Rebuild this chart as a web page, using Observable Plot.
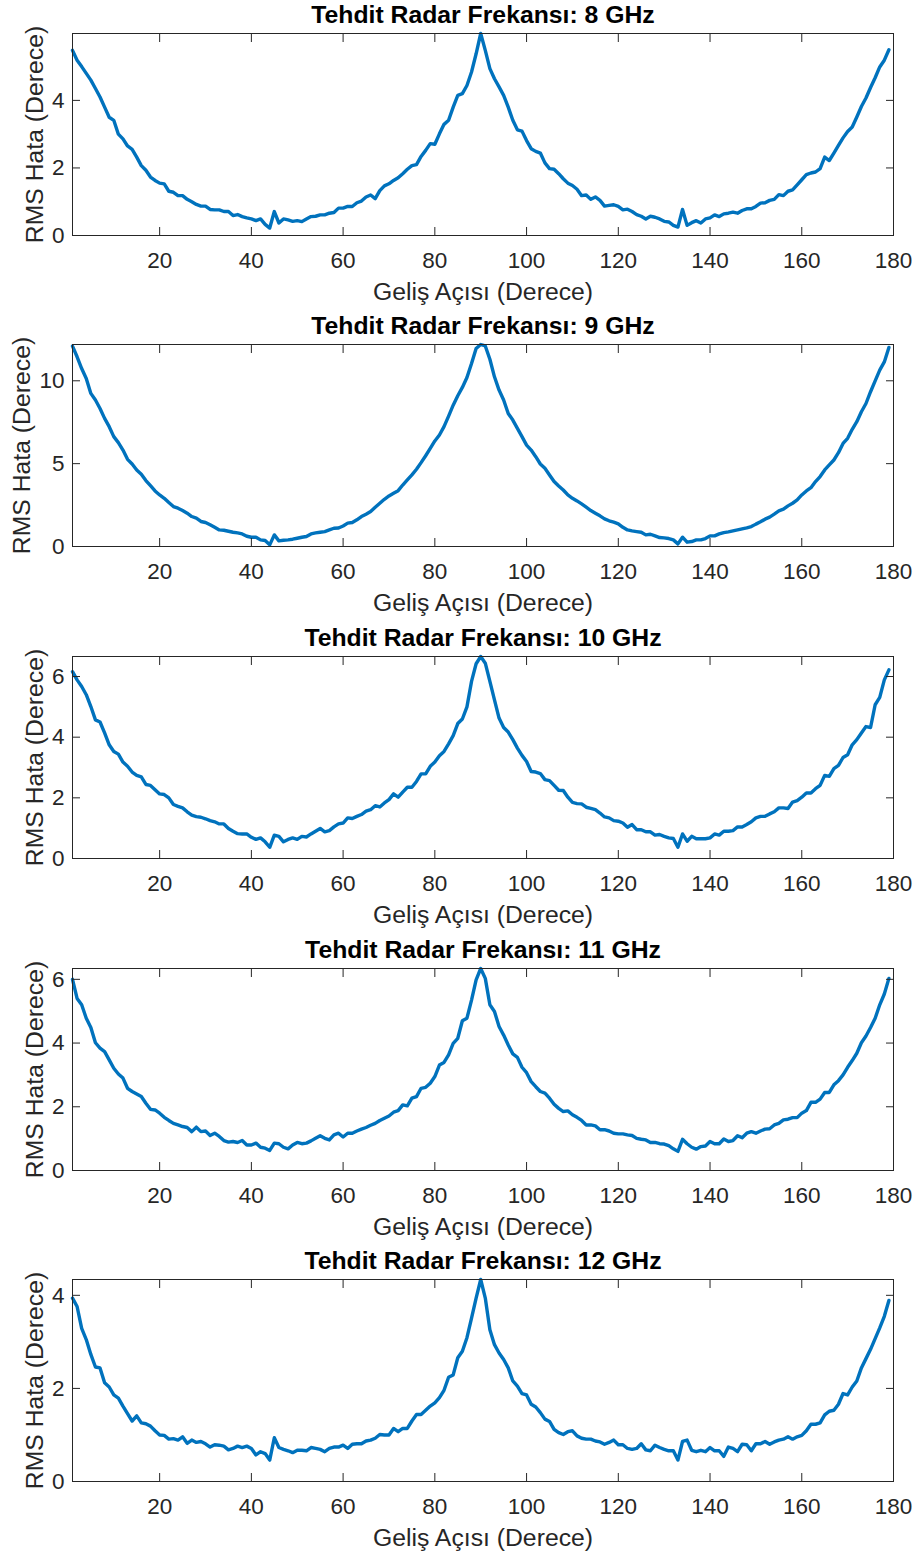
<!DOCTYPE html>
<html>
<head>
<meta charset="utf-8">
<script src="https://cdn.jsdelivr.net/npm/d3@7"></script>
<script src="https://cdn.jsdelivr.net/npm/@observablehq/plot@0.6"></script>
<style>
html, body { margin: 0; padding: 0; background: #fff; }
#chart svg { display: block; }
</style>
</head>
<body>
<div id="chart"></div>
<script>
// Geliş açısı (derece): 1 ... 179
const angles = d3.range(1, 180);

const frequencies = ["8 GHz", "9 GHz", "10 GHz", "11 GHz", "12 GHz"];

const rms8 = [5.48,5.19,5.0,4.8,4.6,4.35,4.1,3.8,3.5,3.41,
3.0,2.86,2.65,2.55,2.32,2.07,1.93,1.73,1.63,1.55,
1.53,1.31,1.28,1.18,1.18,1.07,1.0,0.92,0.87,0.87,
0.77,0.76,0.76,0.71,0.71,0.59,0.62,0.56,0.52,0.49,
0.44,0.49,0.33,0.22,0.71,0.37,0.49,0.46,0.42,0.44,
0.41,0.49,0.56,0.57,0.61,0.61,0.66,0.68,0.81,0.81,
0.86,0.86,0.97,1.02,1.14,1.2,1.09,1.33,1.47,1.53,
1.63,1.71,1.83,1.96,2.07,2.1,2.34,2.52,2.72,2.7,
3.01,3.29,3.41,3.8,4.15,4.2,4.44,4.84,5.38,5.98,
5.48,4.94,4.64,4.4,4.15,3.8,3.41,3.13,3.09,2.81,
2.57,2.49,2.44,2.15,1.98,1.96,1.83,1.68,1.55,1.48,
1.37,1.18,1.2,1.07,1.14,1.04,0.87,0.89,0.91,0.86,
0.76,0.78,0.71,0.62,0.57,0.49,0.57,0.54,0.49,0.42,
0.4,0.3,0.25,0.77,0.3,0.38,0.44,0.37,0.49,0.52,
0.61,0.56,0.64,0.66,0.69,0.66,0.74,0.79,0.79,0.86,
0.96,0.97,1.04,1.07,1.21,1.18,1.31,1.35,1.5,1.65,
1.8,1.85,1.88,1.98,2.32,2.22,2.44,2.67,2.89,3.08,
3.21,3.51,3.82,4.07,4.38,4.67,4.99,5.19,5.5];

const rms9 = [12.09,11.45,10.74,10.14,9.24,8.84,8.33,7.73,7.23,6.63,
6.27,5.82,5.26,4.98,4.62,4.36,3.98,3.67,3.35,3.11,
2.91,2.65,2.41,2.31,2.17,2.01,1.81,1.71,1.51,1.45,
1.31,1.16,1.0,0.98,0.92,0.86,0.82,0.76,0.62,0.56,
0.56,0.4,0.36,0.1,0.7,0.34,0.38,0.4,0.44,0.5,
0.56,0.6,0.76,0.82,0.86,0.9,1.0,1.1,1.12,1.24,
1.41,1.45,1.61,1.81,1.95,2.11,2.37,2.61,2.85,3.05,
3.21,3.37,3.71,4.02,4.32,4.66,5.06,5.48,5.92,6.37,
6.73,7.23,7.87,8.53,9.1,9.6,10.2,11.04,11.95,12.19,
12.1,11.3,10.24,9.44,8.84,8.03,7.63,7.13,6.63,6.12,
5.82,5.42,4.98,4.72,4.32,3.92,3.65,3.41,3.11,2.91,
2.75,2.57,2.37,2.17,2.01,1.85,1.67,1.55,1.47,1.37,
1.16,1.0,0.94,0.9,0.86,0.7,0.74,0.64,0.54,0.52,
0.48,0.4,0.16,0.56,0.26,0.3,0.4,0.4,0.48,0.64,
0.64,0.76,0.84,0.88,0.94,1.0,1.06,1.12,1.2,1.35,
1.49,1.65,1.77,1.95,2.15,2.25,2.45,2.61,2.81,3.11,
3.35,3.55,3.92,4.22,4.62,4.92,5.22,5.66,6.22,6.53,
7.07,7.53,8.13,8.63,9.34,10.0,10.64,11.14,12.01];

const rms10 = [6.16,5.89,5.67,5.4,5.01,4.57,4.5,4.14,3.75,3.53,
3.44,3.18,3.04,2.85,2.74,2.69,2.44,2.41,2.27,2.13,
2.11,2.0,1.78,1.72,1.67,1.54,1.43,1.38,1.36,1.31,
1.25,1.21,1.14,1.14,0.99,0.9,0.82,0.81,0.81,0.7,
0.63,0.68,0.55,0.37,0.77,0.73,0.55,0.63,0.68,0.63,
0.73,0.71,0.81,0.9,0.99,0.88,0.92,1.04,1.14,1.17,
1.34,1.32,1.39,1.45,1.56,1.61,1.74,1.7,1.83,1.94,
2.13,2.02,2.19,2.35,2.35,2.54,2.79,2.79,3.04,3.18,
3.39,3.53,3.78,4.05,4.45,4.6,5.0,5.84,6.42,6.66,
6.44,5.84,5.23,4.63,4.32,4.17,3.92,3.64,3.4,3.2,
2.87,2.85,2.8,2.6,2.57,2.41,2.25,2.24,2.02,1.85,
1.81,1.8,1.69,1.65,1.61,1.5,1.37,1.34,1.25,1.23,
1.17,1.03,1.12,0.95,0.95,0.88,0.88,0.77,0.79,0.73,
0.68,0.66,0.37,0.81,0.57,0.73,0.65,0.65,0.65,0.68,
0.81,0.77,0.9,0.9,0.92,1.04,1.04,1.12,1.21,1.34,
1.39,1.39,1.47,1.54,1.67,1.67,1.65,1.86,1.91,2.02,
2.16,2.16,2.3,2.41,2.74,2.71,2.96,3.07,3.33,3.42,
3.75,3.92,4.14,4.35,4.32,5.07,5.31,5.89,6.22];

const rms11 = [6.0,5.4,5.2,4.78,4.49,4.01,3.84,3.73,3.47,3.21,
3.03,2.9,2.58,2.48,2.4,2.32,2.11,1.92,1.9,1.8,
1.67,1.57,1.48,1.43,1.38,1.35,1.22,1.36,1.22,1.24,
1.1,1.17,1.07,0.94,0.89,0.91,0.88,0.94,0.8,0.8,
0.86,0.73,0.7,0.63,0.86,0.84,0.73,0.68,0.8,0.88,
0.84,0.86,0.93,1.01,1.09,1.01,0.96,1.12,1.17,1.05,
1.17,1.17,1.24,1.3,1.35,1.42,1.48,1.57,1.64,1.71,
1.83,1.88,2.06,2.03,2.27,2.32,2.58,2.61,2.74,2.95,
3.31,3.39,3.63,3.99,4.15,4.7,4.78,5.35,5.98,6.34,
6.03,5.2,4.99,4.52,4.25,3.94,3.66,3.55,3.24,3.07,
2.79,2.63,2.48,2.43,2.27,2.08,1.95,1.85,1.87,1.75,
1.67,1.57,1.43,1.43,1.4,1.28,1.28,1.24,1.17,1.15,
1.15,1.12,1.1,1.01,0.98,0.96,0.88,0.88,0.84,0.83,
0.78,0.68,0.6,0.98,0.84,0.73,0.67,0.75,0.77,0.91,
0.84,0.84,0.99,0.91,0.94,1.09,1.03,1.17,1.22,1.17,
1.24,1.3,1.31,1.43,1.48,1.59,1.61,1.66,1.66,1.8,
1.88,2.14,2.14,2.24,2.45,2.45,2.69,2.82,3.0,3.24,
3.45,3.68,4.01,4.22,4.49,4.78,5.2,5.54,6.03];

const rms12 = [3.94,3.76,3.29,3.05,2.73,2.46,2.44,2.12,2.03,1.86,
1.79,1.62,1.46,1.3,1.41,1.26,1.24,1.19,1.09,1.0,
0.99,0.91,0.92,0.89,0.96,0.82,0.89,0.84,0.86,0.81,
0.74,0.79,0.78,0.76,0.68,0.71,0.76,0.73,0.76,0.71,
0.57,0.64,0.6,0.46,0.94,0.73,0.69,0.66,0.62,0.67,
0.67,0.66,0.73,0.71,0.69,0.64,0.71,0.74,0.74,0.78,
0.71,0.8,0.81,0.81,0.87,0.89,0.93,1.01,1.0,1.0,
1.14,1.07,1.14,1.14,1.3,1.44,1.44,1.53,1.62,1.69,
1.8,1.96,2.24,2.29,2.66,2.8,3.09,3.51,3.94,4.34,
3.94,3.26,2.94,2.76,2.62,2.44,2.16,2.05,1.89,1.86,
1.66,1.6,1.48,1.34,1.29,1.12,1.05,1.01,1.07,1.09,
0.98,0.93,0.91,0.91,0.87,0.85,0.8,0.84,0.89,0.79,
0.79,0.71,0.69,0.71,0.81,0.68,0.66,0.78,0.73,0.69,
0.66,0.66,0.46,0.86,0.89,0.67,0.64,0.67,0.64,0.73,
0.66,0.66,0.54,0.74,0.71,0.64,0.8,0.79,0.66,0.81,
0.81,0.86,0.8,0.85,0.89,0.91,0.96,0.91,0.96,0.99,
1.09,1.23,1.23,1.26,1.43,1.51,1.53,1.66,1.89,1.86,
2.03,2.16,2.44,2.64,2.84,3.07,3.3,3.55,3.89];

const xTicks = [20, 40, 60, 80, 100, 120, 140, 160, 180];
const yTicks8 = [0, 2, 4];
const yTicks9 = [0, 5, 10];
const yTicks10 = [0, 2, 4, 6];
const yTicks11 = [0, 2, 4, 6];
const yTicks12 = [0, 2, 4];

const titlePrefix = "Tehdit Radar Frekansı: ";
const xLabel = "Geliş Açısı (Derece)";
const yLabel = "RMS Hata (Derece)";

const panels = [
  {freq: frequencies[0], values: rms8,  ticks: yTicks8,  labelOffset: 47, height: 311},
  {freq: frequencies[1], values: rms9,  ticks: yTicks9,  labelOffset: 60, height: 312},
  {freq: frequencies[2], values: rms10, ticks: yTicks10, labelOffset: 47, height: 312},
  {freq: frequencies[3], values: rms11, ticks: yTicks11, labelOffset: 47, height: 311},
  {freq: frequencies[4], values: rms12, ticks: yTicks12, labelOffset: 47, height: 309}
];

const font = "'Liberation Sans', Arial, Helvetica, sans-serif";
const ink = "#262626";
const container = document.getElementById("chart");

for (const p of panels) {
  const data = angles.map((a, i) => ({angle: a, rms: p.values[i]}));
  const chart = Plot.plot({
    width: 920,
    height: p.height,
    marginTop: 33,
    marginRight: 27,
    marginBottom: p.height - 235,
    marginLeft: 72,
    style: {fontFamily: font, fontSize: "22.5px", color: ink, background: "white", overflow: "visible"},
    x: {domain: [1, 180]},
    y: {domain: [0, d3.max(p.values)]},
    marks: [
      Plot.line(data, {x: "angle", y: "rms", stroke: "#0072BD", strokeWidth: 3.4, strokeLinejoin: "round"}),
      Plot.frame({stroke: ink, strokeWidth: 1}),
      Plot.axisX(xTicks, {anchor: "bottom", tickSize: -8, text: null, label: null}),
      Plot.axisX(xTicks, {anchor: "top", tickSize: -8, text: null, label: null}),
      Plot.axisX(xTicks, {anchor: "bottom", tickSize: 0, tickPadding: 17, label: null}),
      Plot.axisX({anchor: "bottom", tickSize: 0, text: null, label: xLabel, labelAnchor: "center", labelOffset: 64, labelArrow: "none", fontSize: 24.75}),
      Plot.axisY(p.ticks, {anchor: "left", tickSize: -8, text: null, label: null}),
      Plot.axisY(p.ticks, {anchor: "right", tickSize: -8, text: null, label: null}),
      Plot.axisY(p.ticks, {anchor: "left", tickSize: 0, tickPadding: 8, label: null}),
      Plot.axisY({anchor: "left", tickSize: 0, text: null, label: yLabel, labelAnchor: "center", labelOffset: p.labelOffset, labelArrow: "none", fontSize: 24.75}),
      Plot.text([titlePrefix + p.freq], {frameAnchor: "top", lineAnchor: "bottom", dy: -11, fontWeight: "bold", fontSize: 24.75, fill: "black"})
    ]
  });
  container.appendChild(chart);
}
</script>
</body>
</html>
